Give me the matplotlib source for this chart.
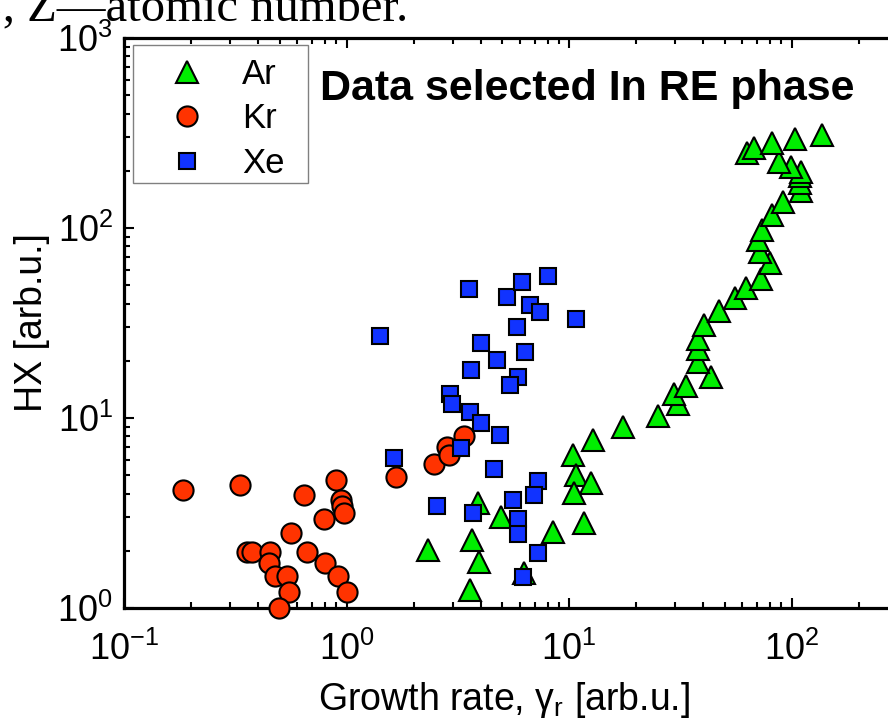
import numpy as np
import matplotlib.pyplot as plt
from matplotlib.patches import Rectangle

# Ar (green triangles)
ar_x = [2.32, 3.68, 3.95, 3.59, 3.88, 4.94, 6.29, 8.45, 11.7, 10.4, 10.75, 12.6, 10.5,
        12.8, 17.4, 25.1, 30.9, 29.6, 33.6, 43.3, 38.0, 38.0, 38.0, 40.4, 47.2, 55.5,
        62.3, 72.7, 79.9, 72.0, 70.3, 73.8, 81.3, 91.1, 110.0, 109.0, 109.0, 110.0,
        99.3, 88.0, 62.7, 67.9, 81.3, 104.0, 137.5]
ar_y = [2.02, 2.28, 1.75, 1.25, 3.56, 3.02, 1.52, 2.52, 2.79, 6.39, 5.01, 4.57, 4.04,
        7.66, 8.97, 10.2, 11.9, 13.3, 14.7, 16.4, 19.8, 23.0, 26.0, 30.9, 36.7, 42.7,
        48.5, 53.7, 65.2, 75.0, 86.5, 97.6, 117.0, 137.0, 157.0, 172.0, 188.0, 198.0,
        210.0, 223.0, 247.0, 263.0, 279.0, 293.0, 309.0]

# Kr (red circles)
kr_x = [0.184, 0.333, 0.357, 0.376, 0.455, 0.447, 0.479, 0.541, 0.550, 0.499, 0.560,
        0.642, 0.661, 0.796, 0.804, 0.895, 0.946, 0.956, 0.979, 0.914, 1.007, 1.66,
        2.46, 2.84, 2.89, 3.38]
kr_y = [4.18, 4.44, 1.96, 1.96, 1.96, 1.72, 1.47, 1.47, 1.22, 1.0, 2.47, 3.93, 1.96,
        2.93, 1.72, 4.72, 3.70, 3.44, 3.17, 1.47, 1.22, 4.91, 5.71, 7.06, 6.39, 8.04]

# Xe (blue squares)
xe_x = [1.42, 3.56, 5.26, 6.12, 8.07, 6.67, 7.42, 10.75, 5.83, 4.01, 6.35, 4.74, 3.62,
        5.87, 5.42, 2.92, 2.99, 3.58, 4.04, 4.90, 3.26, 1.63, 4.58, 7.23, 6.97, 5.61,
        2.56, 3.70, 5.87, 5.87, 7.27, 6.18]
xe_y = [27.0, 47.6, 43.5, 52.2, 56.1, 39.3, 36.0, 33.1, 30.0, 24.7, 22.3, 20.2, 17.9,
        16.4, 14.9, 13.4, 11.9, 10.7, 9.38, 8.14, 6.93, 6.14, 5.41, 4.68, 3.93, 3.70,
        3.44, 3.17, 2.93, 2.45, 1.955, 1.46]

plt.rcParams['font.family'] = ['Liberation Sans', 'DejaVu Sans']
plt.rcParams['mathtext.fontset'] = 'custom'
plt.rcParams['mathtext.rm'] = 'Liberation Sans'
plt.rcParams['mathtext.it'] = 'Liberation Sans:italic'
plt.rcParams['mathtext.bf'] = 'Liberation Sans:bold'

W, H = 888, 725
fig = plt.figure(figsize=(W / 100, H / 100), dpi=100)
ax = fig.add_axes([124 / W, (H - 608) / H, 880 / W, 570 / H])

mk = dict(ls='none', mec='k', mew=1.5, clip_on=False, zorder=3)
ax.plot(ar_x, ar_y, '^', ms=16, mfc='#00ee00', label='Ar', **mk)
ax.plot(kr_x, kr_y, 'o', ms=14.5, mfc='#ff3300', label='Kr', **mk)
ax.plot(xe_x, xe_y, 's', ms=12, mfc='#1133ff', label='Xe', **mk)

ax.set_xscale('log')
ax.set_yscale('log')
ax.set_xlim(0.1, 900)
ax.set_ylim(1, 1000)
ax.tick_params(which='both', direction='in', top=True, right=True, width=1.5,
               labelsize=26)
ax.tick_params(which='major', length=7.5, pad=8)
ax.tick_params(which='minor', length=4.5)
ax.tick_params(axis='x', which='major', pad=17)
for s in ax.spines.values():
    s.set_linewidth(2.3)

ax.set_xlabel(r'Growth rate, $\mathrm{\gamma_r}$ [arb.u.]', fontsize=27)
ax.xaxis.set_label_coords((504 - 124) / 880, (608 - 680) / 570)
ax.set_ylabel('HX [arb.u.]', fontsize=27)
ax.yaxis.set_label_coords((50 - 124) / 880, 0.5)

leg = ax.legend(loc='upper left', bbox_to_anchor=(161 / W, 1 - 58 / H),
                bbox_transform=fig.transFigure, frameon=False, fontsize=25,
                borderpad=0, borderaxespad=0, handlelength=1.5,
                handletextpad=0.84, labelspacing=0.33, numpoints=1)
fig.patches.append(Rectangle((133 / W, 1 - 183 / H), 175 / W, 138 / H,
                             transform=fig.transFigure, fill=False,
                             ec='#808080', lw=1.0))

fig.text(320 / W, 1 - 100 / H, 'Data selected In RE phase', fontsize=31,
         fontweight='bold', ha='left', va='baseline')
fig.text(408 / W, 1 - 21 / H, 'Z, Z\u2014atomic number.', fontsize=35,
         family=['Liberation Serif', 'DejaVu Serif'], ha='right', va='baseline')

fig.savefig('out.png', dpi=100)
